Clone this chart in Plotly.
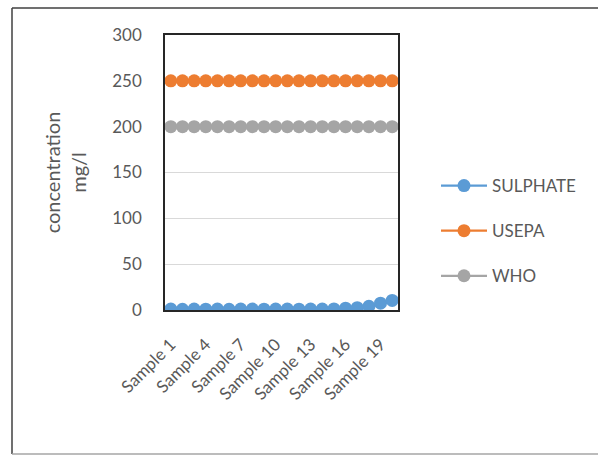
import plotly.graph_objects as go

# Sample labels and measured / guideline concentrations (mg/l)
samples = [f"Sample {i}" for i in range(1, 21)]
sulphate = [1.0, 0.8, 1.0, 0.9, 1.0, 0.8, 1.0, 1.0, 0.9, 1.0,
            1.0, 0.9, 1.0, 1.0, 1.2, 2.0, 2.5, 4.0, 7.5, 10.5]
usepa = [250] * 20
who = [200] * 20

series_names = ["SULPHATE", "USEPA", "WHO"]
series_values = [sulphate, usepa, who]
series_colors = ["#5B9BD5", "#ED7D31", "#A5A5A5"]

tick_labels = samples[::3]
y_ticks = [0, 50, 100, 150, 200, 250, 300]

W, H = 599, 456
L, R, T, B = 165, 398, 35, 310  # plot-area edges in pixels

fig = go.Figure()
for i, (name, vals, col) in enumerate(zip(series_names, series_values, series_colors)):
    fig.add_trace(go.Scatter(
        x=samples, y=vals, name=name, mode="lines+markers",
        line=dict(color=col, width=2.25),
        marker=dict(color=col, size=13),
        legendgroup=f"g{i}",
    ))

def px_x(px):
    return (px - L) / (R - L)

def px_y(py):
    return (B - py) / (B - T)

grey_text = "#595959"
font_family = "Lato, 'Open Sans', sans-serif"

# outer chart frame
fig.add_shape(type="line", xref="paper", yref="paper",
              x0=px_x(12), x1=px_x(12), y0=px_y(8), y1=px_y(454),
              line=dict(color="#404040", width=1.5))
fig.add_shape(type="line", xref="paper", yref="paper",
              x0=px_x(12), x1=px_x(598), y0=px_y(8), y1=px_y(8),
              line=dict(color="#404040", width=1.5))
fig.add_shape(type="line", xref="paper", yref="paper",
              x0=px_x(12), x1=px_x(598), y0=px_y(454), y1=px_y(454),
              line=dict(color="#A6A6A6", width=1.5))

fig.update_layout(
    width=W, height=H,
    margin=dict(l=L, r=W - R, t=T, b=H - B, pad=0),
    paper_bgcolor="white", plot_bgcolor="white",
    font=dict(family=font_family, color=grey_text, size=17),
    showlegend=True,
    legend=dict(
        x=px_x(436), y=px_y(168), xanchor="left", yanchor="top",
        font=dict(size=17, color=grey_text),
        tracegroupgap=20, itemwidth=46,
        bgcolor="rgba(0,0,0,0)",
    ),
    xaxis=dict(
        type="category",
        tickmode="array", tickvals=tick_labels, ticktext=tick_labels,
        tickangle=-45, tickfont=dict(size=17, color=grey_text),
        showline=True, linecolor="#262626", linewidth=1.5, mirror=True,
        showgrid=False, ticks="", range=[-0.5, 19.5],
        ticklabelstandoff=16,
    ),
    yaxis=dict(
        range=[0, 300], tickvals=y_ticks,
        tickfont=dict(size=17, color=grey_text),
        showline=True, linecolor="#262626", linewidth=1.5, mirror=True,
        showgrid=True, gridcolor="#D9D9D9", gridwidth=1,
        zeroline=False, ticks="", ticklabelstandoff=18,
        title=dict(text="concentration<br>mg/l", standoff=20,
                   font=dict(size=20, color=grey_text)),
    ),
)

fig.write_html("out.html")
